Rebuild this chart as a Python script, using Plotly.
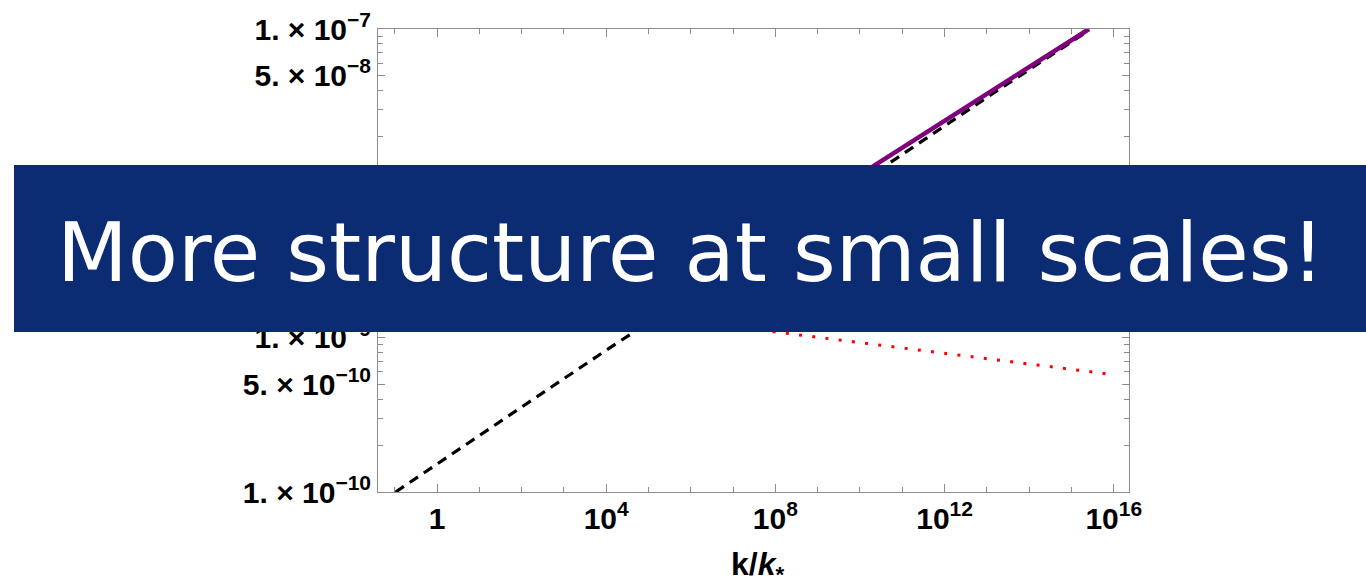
import plotly.graph_objects as go

# Power spectrum curves, P(k) against k/k_*
k_dashed = [0.105, 1.0e4, 1.0e8, 1.0e13, 2.6e15]
p_dashed = [1.0e-10, 8.3e-10, 4.3e-9, 3.6e-8, 9.8e-8]

k_red = [1.0e7, 1.0e8, 1.0e12, 8.0e15]
p_red = [1.18e-9, 1.09e-9, 7.9e-10, 5.8e-10]

k_total = [1.0e7, 1.0e8, 1.0e10, 1.0e13, 2.6e15]
p_total = [4.0e-9, 5.1e-9, 1.14e-8, 3.8e-8, 1.0e-7]

# Axis ticks
x_tickvals = [1, 1e4, 1e8, 1e12, 1e16]
x_ticktext = ["1", "10<sup>4</sup>", "10<sup>8</sup>", "10<sup>12</sup>", "10<sup>16</sup>"]
x_minor_exponents = list(range(-1, 17))

y_tickvals = [1e-10, 5e-10, 1e-9, 5e-9, 1e-8, 5e-8, 1e-7]
y_ticktext = [
    "1. × 10<sup>\u221210</sup>",
    "5. × 10<sup>\u221210</sup>",
    "1. × 10<sup>\u22129</sup>",
    "5. × 10<sup>\u22129</sup>",
    "1. × 10<sup>\u22128</sup>",
    "5. × 10<sup>\u22128</sup>",
    "1. × 10<sup>\u22127</sup>",
]
y_minor_mantissas = [2, 3, 4, 6, 7, 8, 9]
y_minor_exponents = [-10, -9, -8]

x_title = "<b>k/<i>k</i><sub>*</sub></b>"
banner_text = "More structure at small scales!"

FRAME = "#8c8c8c"
TICK_FONT = dict(family="Liberation Sans, Arial, sans-serif", size=30, color="black")


def bold(labels):
    return ["<b>" + s + "</b>" for s in labels]


fig = go.Figure()
fig.add_trace(go.Scatter(
    x=k_dashed, y=p_dashed, mode="lines",
    line=dict(color="black", width=3.2, dash="10px,7px"),
    showlegend=False,
))
fig.add_trace(go.Scatter(
    x=k_red, y=p_red, mode="lines",
    line=dict(color="#ff0000", width=3, dash="3px,10.3px"),
    showlegend=False,
))
fig.add_trace(go.Scatter(
    x=k_total, y=p_total, mode="lines",
    line=dict(color="#800080", width=4.5),
    showlegend=False,
))

fig.update_xaxes(
    type="log", range=[-1.395, 16.36], automargin=False,
    showgrid=False, zeroline=False,
    showline=True, linecolor=FRAME, linewidth=1, mirror="ticks",
    ticks="inside", ticklen=8, tickcolor=FRAME, tickwidth=1,
    tickmode="array", tickvals=x_tickvals, ticktext=bold(x_ticktext),
    tickfont=TICK_FONT,
    minor=dict(ticks="inside", ticklen=5, tickcolor=FRAME, tickwidth=1,
               tickmode="array", tickvals=[10.0 ** e for e in x_minor_exponents]),
)
fig.update_yaxes(
    type="log", range=[-10, -7], automargin=False,
    showgrid=False, zeroline=False,
    showline=True, linecolor=FRAME, linewidth=1, mirror="ticks",
    ticks="inside", ticklen=7, tickcolor=FRAME, tickwidth=1,
    tickmode="array", tickvals=y_tickvals, ticktext=bold(y_ticktext),
    tickfont=TICK_FONT,
    minor=dict(ticks="inside", ticklen=5, tickcolor=FRAME, tickwidth=1,
               tickmode="array",
               tickvals=[m * 10.0 ** e for e in y_minor_exponents for m in y_minor_mantissas]),
)

# x-axis label placed below the tick labels
fig.add_annotation(
    text=x_title, xref="paper", yref="paper",
    x=0.505, y=-0.160, xanchor="center", yanchor="middle",
    showarrow=False,
    font=dict(family="Liberation Sans, Arial, sans-serif", size=32, color="black"),
)

# Banner across the middle of the figure
fig.add_shape(
    type="rect", xref="paper", yref="paper",
    x0=-0.4847, x1=1.40, y0=0.3456, y1=0.7063,
    fillcolor="#0b2c72", line=dict(width=0), layer="above",
)
fig.add_annotation(
    text=banner_text, xref="paper", yref="paper",
    x=0.4155, y=0.518, xanchor="center", yanchor="middle",
    showarrow=False,
    font=dict(family="DejaVu Sans, Inter, sans-serif", size=82, color="white"),
)

fig.update_layout(
    width=1366, height=587,
    margin=dict(l=378, r=237, t=29, b=95),
    paper_bgcolor="white", plot_bgcolor="white",
)

fig.write_html("out.html")
